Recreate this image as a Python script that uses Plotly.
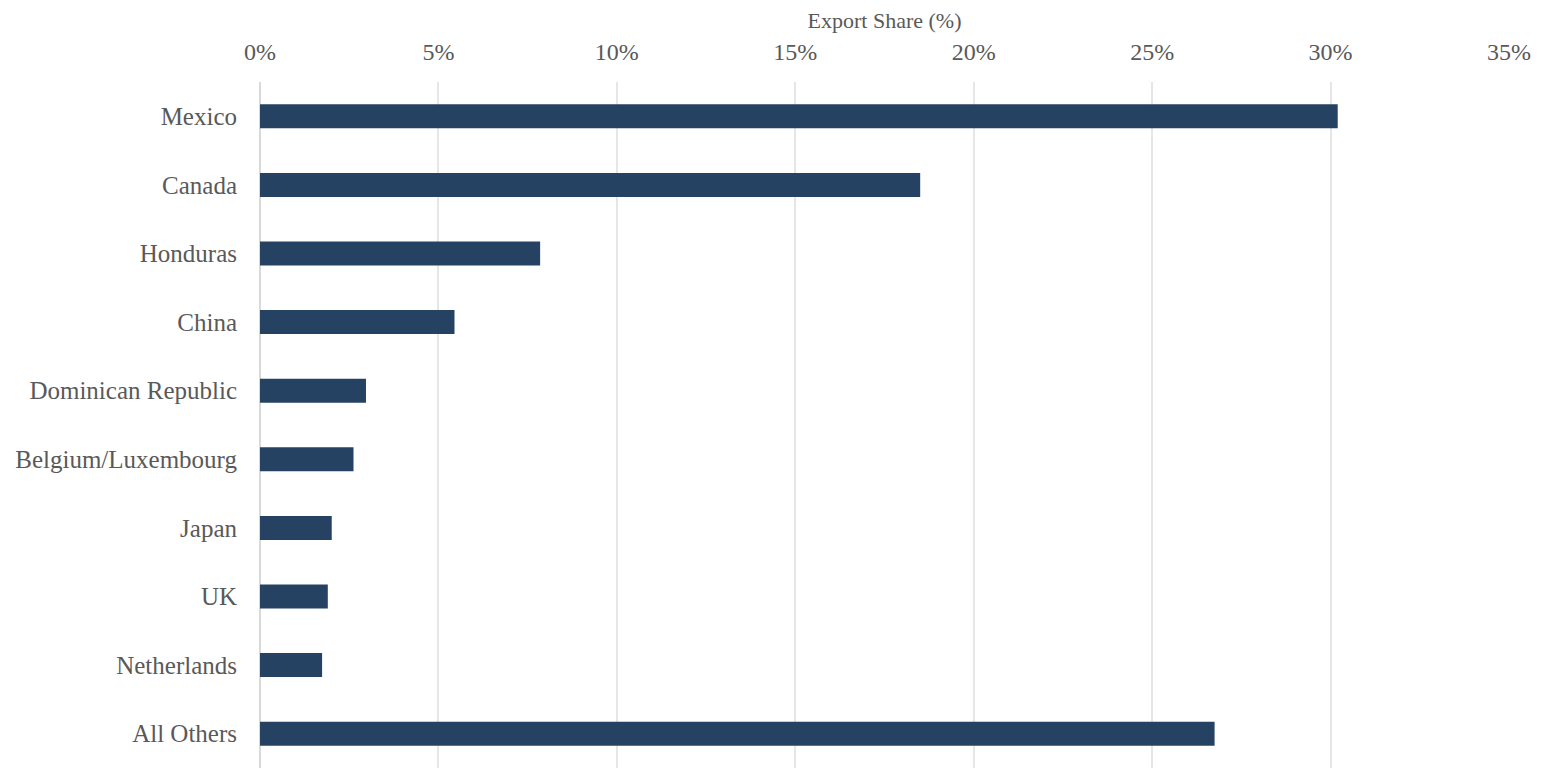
import plotly.graph_objects as go

countries = ["Mexico", "Canada", "Honduras", "China", "Dominican Republic",
             "Belgium/Luxembourg", "Japan", "UK", "Netherlands", "All Others"]
shares = [30.2, 18.5, 7.85, 5.45, 2.97, 2.62, 2.01, 1.9, 1.74, 26.75]
x_ticks = [0, 5, 10, 15, 20, 25, 30, 35]
x_tick_labels = ["0%", "5%", "10%", "15%", "20%", "25%", "30%", "35%"]

FONT = "Liberation Serif"
GREY = "#595959"

fig = go.Figure(go.Bar(
    x=shares, y=countries, orientation="h",
    marker=dict(color="#264263", line=dict(width=0)),
    width=0.35,
))

fig.update_layout(
    width=1545, height=760,
    margin=dict(l=252, r=44, t=74, b=0, autoexpand=False),
    paper_bgcolor="white", plot_bgcolor="white",
    font=dict(family=FONT, size=24, color=GREY),
    showlegend=False,
    xaxis=dict(
        side="top", range=[0, 35], tickvals=x_ticks, ticktext=x_tick_labels,
        showgrid=True, gridcolor="#e6e6e6", gridwidth=1.5,
        zeroline=True, zerolinecolor="#d9d9d9", zerolinewidth=2,
        showline=False, ticks="", automargin=False, ticklabelstandoff=16,
        tickfont=dict(family=FONT, size=24, color=GREY),
        title=dict(text="Export Share (%)", font=dict(family=FONT, size=22, color=GREY), standoff=4),
    ),
    yaxis=dict(
        autorange="reversed", showgrid=False, zeroline=False, showline=False,
        ticks="", ticklabelstandoff=22, automargin=False,
        tickfont=dict(family=FONT, size=25, color=GREY),
    ),
)

fig.write_html("out.html")
